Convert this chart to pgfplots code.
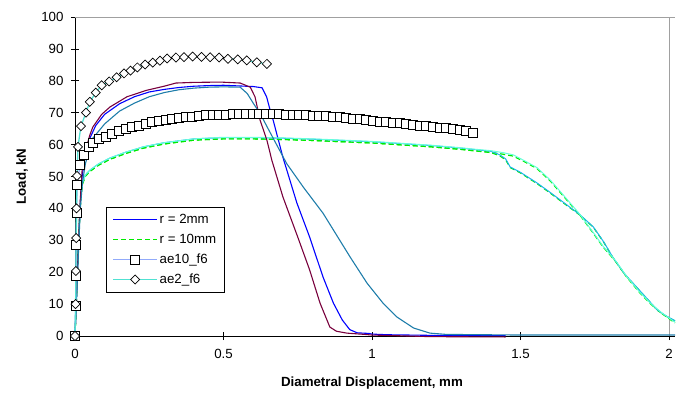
\documentclass[border=0pt]{standalone}
\usepackage{pgfplots}
\pgfplotsset{compat=1.18}
\usepackage{fontspec}
\setmainfont{Liberation Sans}
\definecolor{cmaroon}{RGB}{120,0,60}
\definecolor{cteal}{RGB}{30,125,170}
\definecolor{csky}{RGB}{30,180,235}
\definecolor{caqua}{RGB}{100,255,220}
\definecolor{cae10}{RGB}{145,170,250}
\definecolor{cae2}{RGB}{80,225,210}
\definecolor{cgreen}{RGB}{0,235,0}
\definecolor{cgrid}{RGB}{160,160,160}
\begin{document}
\begin{tikzpicture}
\begin{axis}[
  scale only axis,
  width=600bp, height=319bp,
  xmin=0, xmax=2.02, ymin=0, ymax=100,
  axis x line*=bottom, axis y line*=left,
  axis line style={black, line width=0.8pt, -},
  xtick={0,0.5,1,1.5,2},
  ytick={0,10,...,100},
  tick align=center,
  major tick length=8bp,
  tick style={black, line width=0.7pt},
  /pgf/number format/assume math mode=true,
  ticklabel style={font=\fontsize{13.3bp}{16bp}\selectfont},
  xticklabel style={yshift=-6bp},
  yticklabel style={xshift=-4bp},
  xlabel={\textbf{Diametral Displacement, mm}},
  ylabel={\textbf{Load, kN}},
  xlabel style={at={(axis description cs:0.495,-0.147)}, anchor=center, font=\fontsize{13.3bp}{16bp}\selectfont},
  ylabel style={at={(axis description cs:-0.0883,0.5)}, anchor=center, rotate=0, font=\fontsize{13.3bp}{16bp}\selectfont},
  clip=false,
  legend cell align=left,
  legend style={at={(axis description cs:0.052,0.404)}, anchor=north west, name=leg,
    draw=none, font=\fontsize{13.3bp}{16bp}\selectfont,
    row sep=5bp, inner xsep=6bp, inner ysep=5bp},
  legend image code/.code={\draw[mark repeat=2,mark phase=2,#1] plot coordinates {(0bp,0bp) (22bp,0bp) (44bp,0bp)};},
]
\draw[cgrid, line width=0.8pt] (axis cs:0,100) -- (axis cs:2.02,100);
\draw[cgrid, line width=0.8pt] (axis cs:2,0) -- (axis cs:2,100);

% r = 2mm (blue)
\addplot[blue, line width=1.1pt, no marks] coordinates {
(0,0) (0.006,15) (0.012,30) (0.018,42) (0.024,50) (0.035,57) (0.05,62) (0.07,66) (0.1,69.5)
(0.15,72.8) (0.2,75) (0.25,76.5) (0.3,77.3) (0.35,77.9) (0.4,78.3) (0.45,78.5) (0.5,78.6)
(0.55,78.4) (0.6,78.2) (0.63,77.8) (0.645,75) (0.657,70.8) (0.667,67.7) (0.70,56) (0.747,41.7)
(0.79,31) (0.835,18.5) (0.87,10.3) (0.90,5) (0.925,2) (0.95,1) (0.99,0.8) (1.0,0.6) (1.05,0.4)
(1.2,0.2) (1.45,0.1)};
\addlegendentry{r = 2mm}

% r = 10mm (green dashed, kink)
\addplot[cgreen, dash pattern=on 5bp off 3bp, line width=1.2pt, no marks] coordinates {
(0,0) (0.005,12) (0.01,25) (0.015,36) (0.02,44) (0.025,47.6) (0.035,50.1) (0.05,51.6) (0.08,53.6)
(0.118,55.4) (0.17,57.2) (0.23,58.9) (0.3,60.2) (0.4,61.4) (0.5,61.8) (0.6,61.8) (0.7,61.6)
(0.8,61.3) (0.9,60.9) (1.0,60.5) (1.1,59.9) (1.2,59.3) (1.3,58.5) (1.34,58.1) (1.40,57.5)
(1.43,56.5) (1.45,55.2) (1.465,52.8) (1.50,51.1) (1.555,47.8) (1.60,44.8) (1.643,41.8) (1.70,37.9)
(1.745,34.1) (1.78,29.4) (1.81,24.7) (1.85,19.4) (1.89,15.3) (1.93,11.2) (1.96,8.1) (1.99,6.2) (2.02,4.7)};
\addlegendentry{r = 10mm}

% green dashed, smooth
\addplot[cgreen, dash pattern=on 5bp off 3bp, line width=1.2pt, no marks, forget plot] coordinates {
(0,0) (0.005,12) (0.01,25) (0.015,36) (0.02,44) (0.025,47.6) (0.035,50.1) (0.05,51.6) (0.08,53.6)
(0.118,55.4) (0.17,57.2) (0.23,58.9) (0.3,60.2) (0.4,61.4) (0.5,61.8) (0.6,61.8) (0.7,61.6)
(0.8,61.3) (0.9,60.9) (1.0,60.5) (1.1,59.9) (1.2,59.3) (1.3,58.5) (1.34,58.1) (1.40,57.6)
(1.44,57.0) (1.475,56.4) (1.51,54.8) (1.555,52.5) (1.60,48.6) (1.643,44.0) (1.70,37.9) (1.745,32.2)
(1.778,27.9) (1.82,23.4) (1.858,18.4) (1.90,13.7) (1.936,10.2) (1.975,7.1) (2.02,4.1)};

% sky blue, kink
\addplot[csky, line width=1.0pt, no marks, forget plot] coordinates {
(0,0) (0.005,12) (0.01,25) (0.015,36) (0.02,44) (0.025,48) (0.035,50.5) (0.05,52) (0.08,54)
(0.118,55.8) (0.17,57.6) (0.23,59.3) (0.3,60.6) (0.4,61.8) (0.5,62.2) (0.6,62.2) (0.7,62)
(0.8,61.7) (0.9,61.3) (1.0,60.9) (1.1,60.3) (1.2,59.7) (1.3,58.9) (1.34,58.5) (1.40,57.9)
(1.43,56.8) (1.45,55.5) (1.465,53) (1.50,51.3) (1.555,48) (1.60,45) (1.643,42) (1.70,38)
(1.745,34.2) (1.78,29.5) (1.81,24.8) (1.85,19.5) (1.89,15.4) (1.93,11.3) (1.96,8.2) (1.99,6.3) (2.02,4.8)};

% aquamarine, smooth
\addplot[caqua, line width=1.0pt, no marks, forget plot] coordinates {
(0,0) (0.005,12) (0.01,25) (0.015,36) (0.02,44) (0.025,48) (0.035,50.5) (0.05,52) (0.08,54)
(0.118,55.8) (0.17,57.6) (0.23,59.3) (0.3,60.6) (0.4,61.8) (0.5,62.3) (0.6,62.3) (0.7,62.1)
(0.8,61.8) (0.9,61.4) (1.0,61.0) (1.1,60.4) (1.2,59.8) (1.3,59.0) (1.34,58.6) (1.40,58.1)
(1.44,57.5) (1.475,56.8) (1.51,55.1) (1.555,52.8) (1.60,48.9) (1.643,44.3) (1.70,38.1) (1.745,32.4)
(1.778,28.1) (1.82,23.6) (1.858,18.6) (1.90,13.9) (1.936,10.4) (1.975,7.3) (2.02,4.3)};

% maroon
\addplot[cmaroon, line width=1.1pt, no marks, forget plot] coordinates {
(0,0) (0.006,15) (0.012,30) (0.018,43) (0.024,52) (0.035,58) (0.05,63) (0.06,65.5) (0.09,69.5)
(0.118,71.8) (0.175,75) (0.24,77) (0.3,78.3) (0.34,79.3) (0.4,79.5) (0.49,79.6) (0.556,79.3)
(0.59,78) (0.606,75) (0.623,67.7) (0.646,61.4) (0.663,55) (0.70,43.6) (0.75,31) (0.79,20.7)
(0.825,10.3) (0.858,2.8) (0.88,1.5) (0.915,0.9) (0.976,0.5) (1.0,0.3) (1.2,-0.2) (1.45,-0.3)};

% teal
\addplot[cteal, line width=1.1pt, no marks, forget plot] coordinates {
(0,0) (0.006,13) (0.012,27) (0.018,40) (0.025,48) (0.035,54) (0.05,59) (0.06,62) (0.1,66.5)
(0.15,70.5) (0.2,73) (0.25,75) (0.3,76.3) (0.35,77.2) (0.4,77.7) (0.45,78) (0.5,78.1) (0.556,78)
(0.58,76) (0.6,73) (0.623,69.8) (0.65,65) (0.713,54) (0.77,46.5) (0.835,38.5) (0.926,24.8)
(0.983,16.6) (1.037,10.3) (1.083,6) (1.14,2.5) (1.195,0.9) (1.25,0.5) (1.5,0.3) (2.02,0.3)};

% ae10_f6 (squares)
\addplot[cae10, line width=1.3pt, mark=square*, mark size=4.5bp,
  mark options={draw=black, fill=white, line width=0.7pt, solid}] coordinates {
(0,0) (0.002,9.5) (0.003,19) (0.004,28.5) (0.005,38.5) (0.007,47.3) (0.017,53.6) (0.03,56.7)
(0.047,59.3) (0.06,60.5) (0.08,61.7)
(0.1025,62.5) (0.125,63.4) (0.1475,64.2) (0.17,64.9) (0.1925,65.5) (0.215,66.0) (0.2375,66.6)
(0.26,67.0) (0.2825,67.4) (0.305,67.8) (0.3275,68.1) (0.35,68.3) (0.3725,68.6) (0.395,68.8)
(0.4175,69.0) (0.44,69.2) (0.4625,69.3) (0.485,69.4) (0.5075,69.4) (0.53,69.5) (0.5525,69.5)
(0.575,69.5) (0.5975,69.5) (0.62,69.5) (0.6425,69.5) (0.665,69.5) (0.6875,69.5) (0.71,69.4)
(0.7325,69.4) (0.755,69.3) (0.7775,69.2) (0.80,69.1) (0.8225,69.0) (0.845,68.9) (0.8675,68.8)
(0.89,68.6) (0.9125,68.4) (0.935,68.2) (0.9575,68.0) (0.98,67.7) (1.0025,67.4) (1.025,67.2)
(1.0475,67.1) (1.07,66.9) (1.0925,66.7) (1.115,66.4) (1.1375,66.2) (1.16,66.0) (1.1825,65.8)
(1.205,65.6) (1.2275,65.4) (1.25,65.1) (1.2725,64.8) (1.295,64.5) (1.3175,64.2) (1.34,63.6)};
\addlegendentry{ae10\_f6}

% ae2_f6 (diamonds)
\addplot[cae2, line width=1.3pt, mark=square*, mark size=3.2bp,
  mark options={draw=black, fill=white, line width=0.7pt, solid, rotate=45}] coordinates {
(0,0) (0.002,10) (0.003,20.4) (0.004,30.7) (0.005,40) (0.007,50.2) (0.01,59.3) (0.02,65.8)
(0.037,70) (0.05,73.4) (0.07,76.3) (0.09,78.6) (0.115,79.8) (0.14,81.1) (0.165,82.3) (0.187,83.2)
(0.21,84.2) (0.236,85.1) (0.262,85.7) (0.286,86.3) (0.31,87) (0.34,87.3) (0.367,87.4) (0.396,87.6)
(0.426,87.5) (0.455,87.4) (0.485,87.3) (0.515,86.9) (0.548,86.7) (0.578,86.4) (0.612,85.8) (0.646,85.3)};
\addlegendentry{ae2\_f6}
\end{axis}
\draw[black, line width=0.8pt] (leg.south west) rectangle (leg.north east);
\path[use as bounding box] ([shift={(-75bp,-60bp)}]current axis.south west) rectangle ([shift={(5bp,17bp)}]current axis.north east);
\end{tikzpicture}
\end{document}
